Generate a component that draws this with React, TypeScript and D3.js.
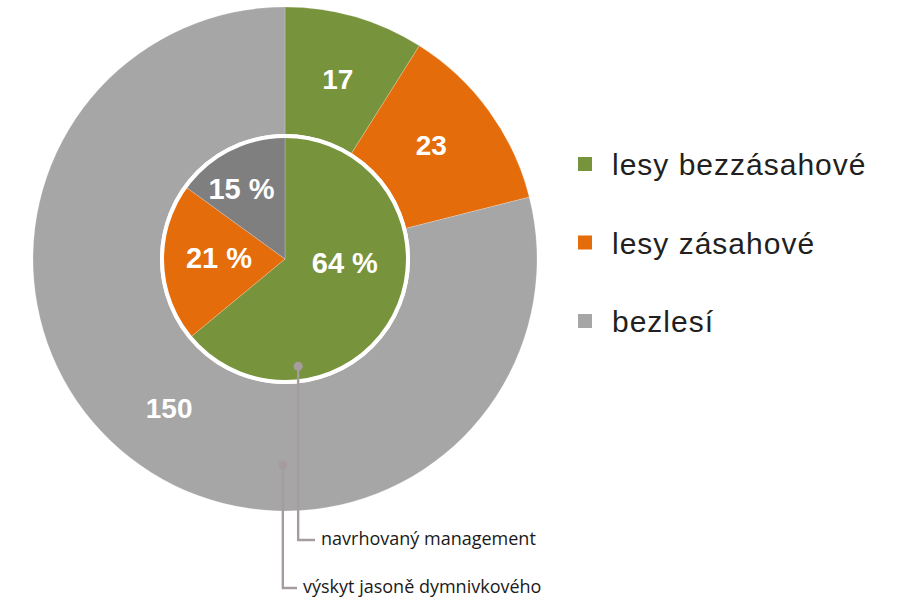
import React from "react";
import * as d3 from "d3";

const outerCategories = ["lesy bezzásahové", "lesy zásahové", "bezlesí"];
const outerValues = [17, 23, 150];
const innerValues = [64, 21, 15];
const innerLabels = ["64 %", "21 %", "15 %"];
const legendLabels = ["lesy bezzásahové", "lesy zásahové", "bezlesí"];
const annotationLabels = ["navrhovaný management", "výskyt jasoně dymnivkového"];

const outerColors = ["#77933c", "#e46c0a", "#a6a6a6"];
const innerColors = ["#77933c", "#e46c0a", "#7f7f7f"];

const W = 906;
const H = 603;
const cx = 285;
const cy = 259;
const R_OUT = 252;
const R_IN = 123;

// label nudges (layout only)
const innerLabelNudge: [number, number][] = [
  [1, -24],
  [-1, -3],
  [-14, -13],
];
const outerLabelNudge: [number, number][] = [
  [1, 0],
  [-5, -4],
  [-1, 1],
];

export default function App() {
  const pie = d3.pie<number>().sort(null).value((d) => d);
  const outerArcs = pie(outerValues);
  const innerArcs = pie(innerValues);
  const outerArc = d3.arc<d3.PieArcDatum<number>>().innerRadius(0).outerRadius(R_OUT);
  const innerArc = d3.arc<d3.PieArcDatum<number>>().innerRadius(0).outerRadius(R_IN);
  const outerLabelArc = d3.arc<d3.PieArcDatum<number>>().innerRadius(187).outerRadius(187);
  const innerLabelArc = d3.arc<d3.PieArcDatum<number>>().innerRadius(65).outerRadius(65);

  const legendY = d3.scaleLinear().domain([0, 2]).range([164, 321]);

  // annotation anchors: [angle in degrees clockwise from top, radius]
  const annAnchors: [number, number][] = [
    [173, 108],
    [180.6, 206],
  ];
  const annEnds = [540, 588];
  const annTextX = [321, 303];
  const polar = (deg: number, r: number): [number, number] => {
    const a = (deg * Math.PI) / 180;
    return [cx + r * Math.sin(a), cy - r * Math.cos(a)];
  };

  return (
    <svg width={W} height={H} style={{ position: "absolute", left: 0, top: 0 }}>
      <rect width={W} height={H} fill="#ffffff" />
      <g transform={`translate(${cx},${cy})`}>
        {outerArcs.map((a, i) => (
          <path key={"o" + i} d={outerArc(a) || ""} fill={outerColors[i]} stroke="#ffffff" strokeOpacity={0.35} strokeWidth={0.6} />
        ))}
        {outerArcs.map((a, i) => {
          const [x, y] = outerLabelArc.centroid(a);
          const [nx, ny] = outerLabelNudge[i];
          return (
            <text key={"ol" + i} x={x + nx} y={y + ny} dy="0.36em" textAnchor="middle" fill="#ffffff"
              style={{ fontFamily: "'Liberation Sans', Arial, sans-serif", fontWeight: 700, fontSize: 28 }}>
              {outerValues[i]}
            </text>
          );
        })}
        <circle r={R_IN} fill="#ffffff" stroke="#ffffff" strokeWidth={4} />
        {innerArcs.map((a, i) => (
          <path key={"i" + i} d={innerArc(a) || ""} fill={innerColors[i]} stroke="#ffffff" strokeOpacity={0.35} strokeWidth={0.6} />
        ))}
        <circle r={R_IN} fill="none" stroke="#ffffff" strokeWidth={4} />
        {innerArcs.map((a, i) => {
          const [x, y] = innerLabelArc.centroid(a);
          const [nx, ny] = innerLabelNudge[i];
          return (
            <text key={"il" + i} x={x + nx} y={y + ny} dy="0.36em" textAnchor="middle" fill="#ffffff"
              style={{ fontFamily: "'Liberation Sans', Arial, sans-serif", fontWeight: 700, fontSize: 29 }}>
              {innerLabels[i]}
            </text>
          );
        })}
      </g>
      {annAnchors.map(([deg, r], i) => {
        const [x, y] = polar(deg, r);
        const endY = annEnds[i];
        return (
          <g key={"ann" + i}>
            <path d={`M${x},${y}V${endY}H${annTextX[i] - 6}`} fill="none" stroke="#a59d9d" strokeWidth={2.4} />
            <circle cx={x} cy={y} r={4.5} fill="#a59d9d" />
            <text x={annTextX[i]} y={endY + 5} fill="#1a1a1a"
              style={{ fontFamily: "'Open Sans', 'Noto Sans', sans-serif", fontSize: 18 }}>
              {annotationLabels[i]}
            </text>
          </g>
        );
      })}
      {legendLabels.map((l, i) => (
        <g key={"lg" + i}>
          <rect x={578} y={legendY(i) - 7} width={14} height={14} fill={outerColors[i]} />
          <text x={612} y={legendY(i) + 11} fill="#231f20"
            style={{ fontFamily: "'Liberation Sans', Arial, sans-serif", fontSize: 30, letterSpacing: 1.0 }}>
            {l}
          </text>
        </g>
      ))}
    </svg>
  );
}
